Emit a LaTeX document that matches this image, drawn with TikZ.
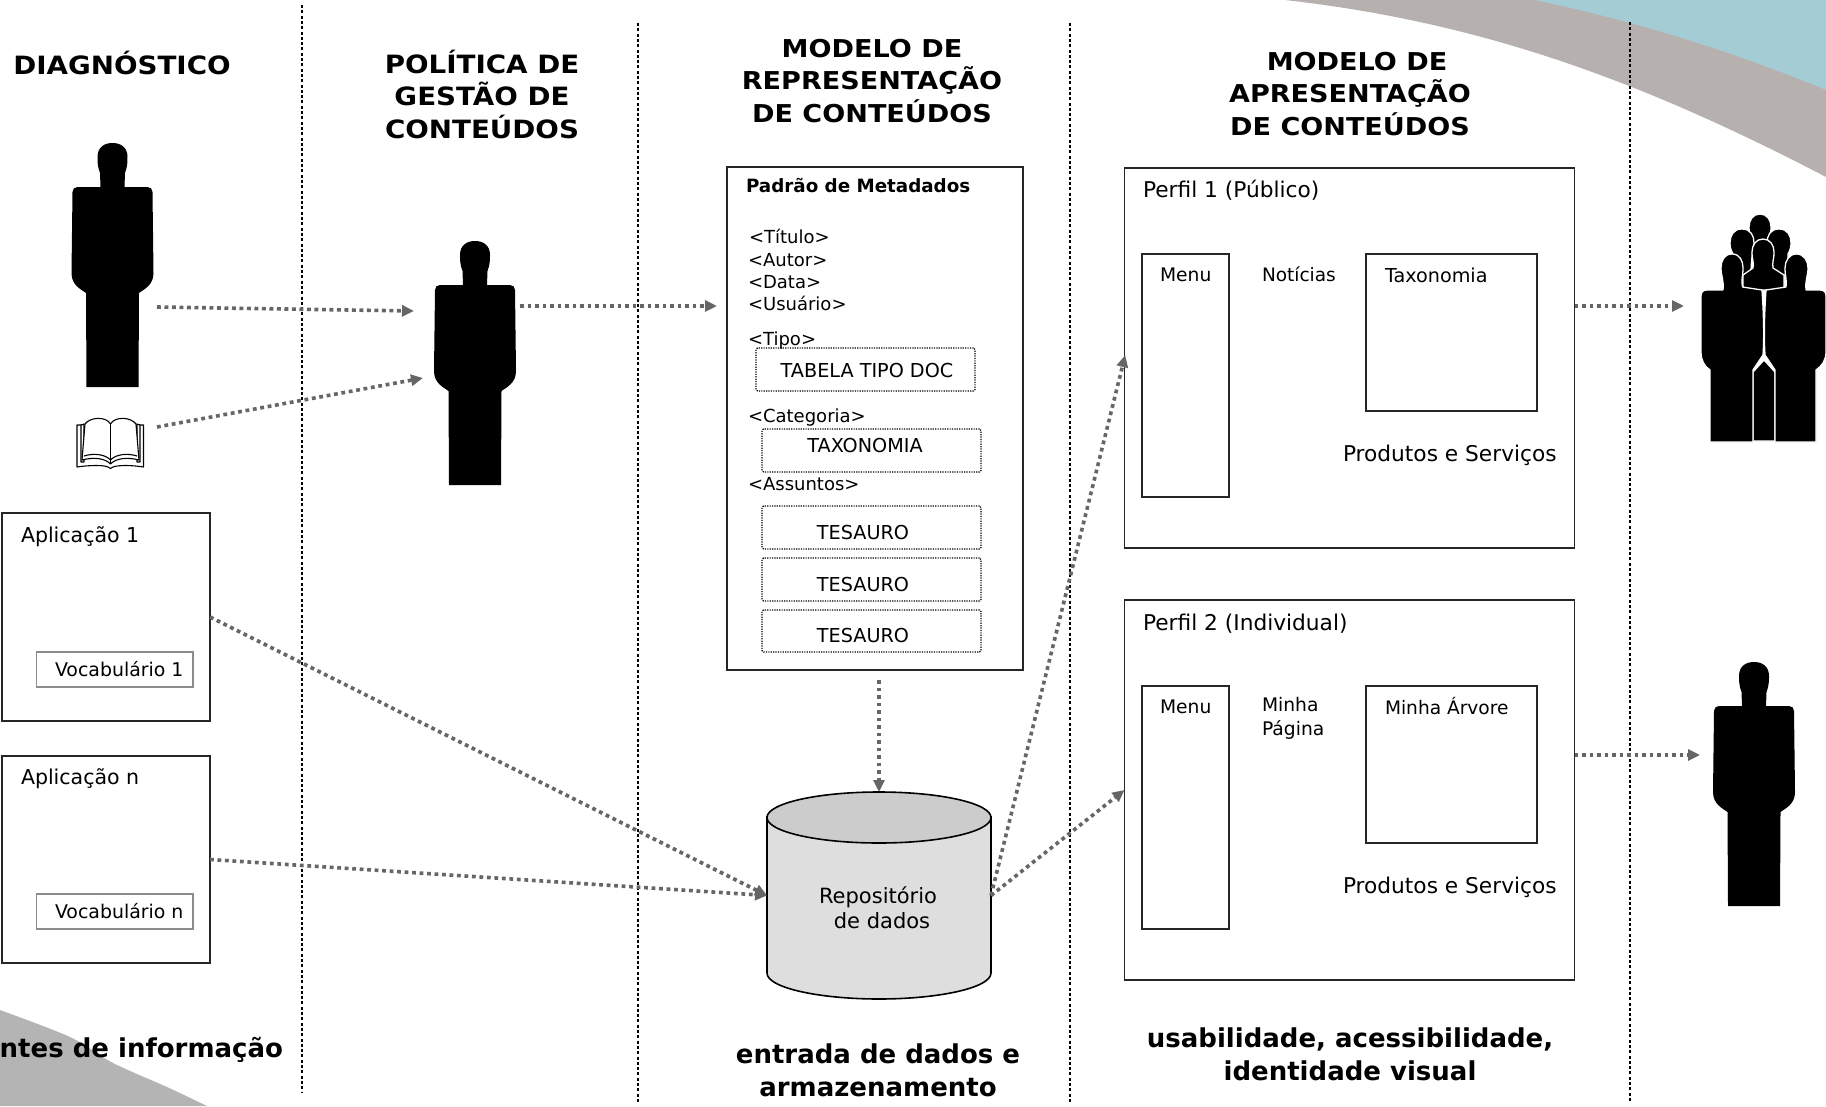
\documentclass[tikz,border=0pt]{standalone}
\usepackage{fontspec}
\setmainfont{DejaVu Sans}
\newfontfamily\headfont[FakeStretch=1.1]{DejaVu Sans}
\usetikzlibrary{arrows.meta,calc}
\definecolor{connc}{HTML}{666666}
\definecolor{bandc}{HTML}{B6B1AF}
\definecolor{tealc}{HTML}{A3CCD4}
\definecolor{cornerc}{HTML}{B4B4B4}
\newcommand\fsz[1]{\fontsize{#1}{#1}\selectfont}
\tikzset{
  x=1pt,y=-1pt,
  every node/.style={inner sep=0pt,outer sep=0pt},
  labelb/.style={anchor=base west,font=\fsz{18}},
  labelc/.style={anchor=base,font=\fsz{19.2}},
  biglabel/.style={anchor=base west,font=\fsz{21.7}},
  headb/.style={anchor=base,align=center,font={\headfont\fsz{24.6}\bfseries\baselineskip=32.5pt}},
  footb/.style={anchor=base,align=center,font={\fsz{26}\bfseries\baselineskip=32.5pt}},
  framebox/.style={draw=black!85,line width=1.6pt,anchor=north west,fill=white},
  vocbox/.style={draw=black!45,line width=1.4pt,anchor=north west,fill=white},
  dotbox/.style={draw=black,line width=1.2pt,dash pattern=on 1.2pt off 1.2pt,rounded corners=1.5pt,anchor=north west},
  vsep/.style={draw=black,line width=2.8pt,dash pattern=on 3pt off 2.3pt},
  conn/.style={draw=connc,line width=3.6pt,dash pattern=on 3.8pt off 3.7pt,-{Triangle[length=12pt,width=11pt]}},
  figout/.style={fill=black,draw=white,line width=1.3pt,line join=round},
  person/.pic={
    \fill[black] (-12,44) -- (-12.5,30) .. controls (-15,24) and (-15,18) .. (-15,14)
      .. controls (-15,4) and (-8,0) .. (0,0) .. controls (8,0) and (15,4) .. (15,14)
      .. controls (15,18) and (15,24) .. (12.5,30) -- (12,44)
      -- (35,44) .. controls (38,44) and (40,46) .. (40,49) -- (41,130)
      .. controls (41,142) and (32,146) .. (26.5,150) -- (26,244) -- (-26,244) -- (-26.5,150)
      .. controls (-32,146) and (-41,142) .. (-41,130) -- (-40,49)
      .. controls (-40,46) and (-38,44) .. (-35,44) -- cycle;
  }
}
\begin{document}
\begin{tikzpicture}
\useasboundingbox (0,0) rectangle (1826,1106);
\fill[white] (0,0) rectangle (1826,1106);
% corner swooshes
\fill[bandc] (1285,0) .. controls (1480,22) and (1640,80) .. (1826,177) -- (1826,0) -- cycle;
\fill[tealc] (1535,0) .. controls (1630,20) and (1730,50) .. (1826,90) -- (1826,0) -- cycle;
\fill[cornerc] plot[smooth] coordinates {(0,1010) (70,1037) (113,1063) (167,1087) (207,1106)} -- (0,1106) -- cycle;
% column separators
\coordinate (s1a) at (302,5);   \coordinate (s1b) at (302,1092);
\coordinate (s2a) at (638,23);  \coordinate (s2b) at (638,1103);
\coordinate (s3a) at (1070,23); \coordinate (s3b) at (1070,1103);
\coordinate (s4a) at (1630,22); \coordinate (s4b) at (1630,1103);
\path[vsep] (s1a) -- (s1b);
\path[vsep] (s2a) -- (s2b);
\path[vsep] (s3a) -- (s3b);
\path[vsep] (s4a) -- (s4b);
% headings
\node[headb,font={\headfont\fsz{25.2}\bfseries}] (h1) at (122,74) {DIAGNÓSTICO};
\node[headb,font={\headfont\fsz{25.2}\bfseries\baselineskip=32.5pt}] (h2) at (482,138) {POLÍTICA DE\\GESTÃO DE\\CONTEÚDOS};
\node[headb] (h3) at (872,122) {MODELO DE\\REPRESENTAÇÃO\\DE CONTEÚDOS};
\node[headb] (h4) at (1350,135) {\hspace*{14pt}MODELO DE\\APRESENTAÇÃO\\DE CONTEÚDOS};
% figures
\pic at (112.5,143) {person};
\pic at (475,241) {person};
\pic at (1754,662) {person};
\coordinate (p1out) at (157,307);
\coordinate (p2ina) at (414,311);
\coordinate (p2inb) at (423,378);
\coordinate (p2out) at (520,306);
\coordinate (bookout) at (157,427);
\coordinate (padin) at (717,306);
\coordinate (groupin) at (1684,306);
\coordinate (p3in) at (1700,755);
% book
\begin{scope}[line width=1.1pt,line join=round]
\draw[fill=white] (77,425) -- (77,467) .. controls (90,465) and (104,465) .. (108,467) -- (110.5,468.5) -- (113,467) .. controls (118,465) and (131,465) .. (143.5,467) -- (143.5,425) -- cycle;
\draw[fill=white] (81,462) -- (81,425) -- (84,424) -- (84,462) -- cycle;
\draw[fill=white] (140,462) -- (140,425) -- (137,424) -- (137,462) -- cycle;
\draw[fill=white] (85,424) .. controls (90,417) and (106,416) .. (110.5,424) .. controls (115,416) and (131,417) .. (136,424) -- (139,460) .. controls (128,457) and (116,458) .. (110.5,464) .. controls (105,458) and (93,457) .. (82,460) -- cycle;
\draw (110.5,424) -- (110.5,464);
\draw (84,456) .. controls (93,453) and (105,454) .. (110.5,460) .. controls (116,454) and (128,453) .. (137,456);
\end{scope}
% group of people
\begin{scope}
\path[figout] (1760,214) .. controls (1767,214) and (1771,220) .. (1771,227) .. controls (1771,236) and (1768,238) .. (1768,246) -- (1752,246) .. controls (1752,238) and (1749,236) .. (1749,227) .. controls (1749,220) and (1753,214) .. (1760,214) -- cycle;
\path[figout] (1742,229) .. controls (1751,229) and (1754,236) .. (1754,243) .. controls (1754,250) and (1751,254) .. (1751,275) -- (1733,275) -- (1733,254) .. controls (1731,250) and (1730,248) .. (1730,243) .. controls (1730,236) and (1733,229) .. (1742,229) -- cycle;
\path[figout] (1779,229) .. controls (1788,229) and (1791,236) .. (1791,243) .. controls (1791,248) and (1790,250) .. (1788,254) -- (1788,275) -- (1770,275) .. controls (1770,254) and (1767,250) .. (1767,243) .. controls (1767,236) and (1770,229) .. (1779,229) -- cycle;
\path[figout] (1763,239) .. controls (1770,239) and (1774,245) .. (1774,252) .. controls (1774,260) and (1772,262) .. (1773,268) -- (1784,275) -- (1784,290) -- (1743,290) -- (1743,275) -- (1753,268) .. controls (1754,262) and (1752,260) .. (1752,252) .. controls (1752,245) and (1756,239) .. (1763,239) -- cycle;
\path[figout] (1753,441) -- (1753,372) -- (1764,360) -- (1775,372) -- (1775,441) -- cycle;
\path[figout] (1732,254) .. controls (1740,254) and (1743,261) .. (1743,268) .. controls (1743,276) and (1741,280) .. (1742.5,287) -- (1762,290) .. controls (1764,320) and (1764,340) .. (1763,355) -- (1753,370) -- (1753,442) -- (1710,442) -- (1710,370) .. controls (1704,366) and (1701,360) .. (1701,352) -- (1701,296) .. controls (1701,292) and (1703,290) .. (1707,290) -- (1723,290) .. controls (1724,280) and (1721,276) .. (1721,268) .. controls (1721,261) and (1724,254) .. (1732,254) -- cycle;
\path[figout] (1796.5,254) .. controls (1804,254) and (1808,261) .. (1808,268) .. controls (1808,276) and (1805,280) .. (1806,290) -- (1820,290) .. controls (1824,290) and (1826,292) .. (1826,296) -- (1826,352) .. controls (1826,360) and (1822,366) .. (1816,370) -- (1816,442) -- (1775,442) -- (1775,370) -- (1765,355) .. controls (1764,340) and (1764,320) .. (1766,290) -- (1786,287) .. controls (1787,280) and (1785,276) .. (1785,268) .. controls (1785,261) and (1789,254) .. (1796.5,254) -- cycle;
\end{scope}
% applications
\node[framebox,minimum width=208pt,minimum height=208pt] (app1) at (2,513) {};
\node[vocbox,minimum width=156.5pt,minimum height=35pt] (voc1) at (36.5,652) {};
\node[framebox,minimum width=208pt,minimum height=207pt] (appn) at (2,756) {};
\node[vocbox,minimum width=156.5pt,minimum height=35pt] (vocn) at (36.5,894) {};
\node[labelb,font=\fsz{20.5}] (app1t) at (21,542) {Aplicação 1};
\node[labelb,font=\fsz{20.5}] (appnt) at (21,784) {Aplicação n};
\node[labelb,font=\fsz{18.9}] (voc1t) at (55,676) {Vocabulário 1};
\node[labelb,font=\fsz{18.9}] (vocnt) at (55,918) {Vocabulário n};
% metadata box
\node[framebox,minimum width=296pt,minimum height=503pt] (padrao) at (727,167) {};
\node[labelb,font={\fsz{18.3}\bfseries}] (padt) at (746,192) {Padrão de Metadados};
\node[labelb] (mt1) at (749,243) {<Título>};
\node[labelb] (mt2) at (748,266) {<Autor>};
\node[labelb] (mt3) at (748,288) {<Data>};
\node[labelb] (mt4) at (748,310) {<Usuário>};
\node[labelb] (mt5) at (748,345) {<Tipo>};
\node[labelb] (mt6) at (748,422) {<Categoria>};
\node[labelb] (mt7) at (748,490) {<Assuntos>};
\node[dotbox,minimum width=219pt,minimum height=43pt] (tipo) at (756,348) {};
\node[dotbox,minimum width=219pt,minimum height=43pt] (taxo) at (762,429) {};
\node[dotbox,minimum width=219pt,minimum height=43pt] (tes1) at (762,506) {};
\node[dotbox,minimum width=219pt,minimum height=43pt] (tes2) at (762,558) {};
\node[dotbox,minimum width=219pt,minimum height=42pt] (tes3) at (762,610) {};
\node[labelc] (tipot) at (867,377) {TABELA TIPO DOC};
\node[labelc] (taxot) at (865,452) {TAXONOMIA};
\node[labelc] (tes1t) at (863,539) {TESAURO};
\node[labelc] (tes2t) at (863,591) {TESAURO};
\node[labelc] (tes3t) at (863,642) {TESAURO};
% repository
\draw[fill=black!13,line width=1.6pt] (767,817) -- (767,973) .. controls (767,988) and (820,999) .. (879,999) .. controls (938,999) and (991,988) .. (991,973) -- (991,817) -- cycle;
\draw[fill=black!20,line width=1.6pt] (879,817.5) ellipse [x radius=112,y radius=25.5];
\node[minimum width=224pt,minimum height=207pt,anchor=north west] (repo) at (767,792) {};
\node[labelc,font=\fsz{21}] (rep1) at (878,903) {Repositório};
\node[labelc,font=\fsz{21}] (rep2) at (882,928) {de dados};
% profile 1
\node[framebox,minimum width=450pt,minimum height=380pt] (perfa) at (1124.5,168) {};
\node[framebox,minimum width=87pt,minimum height=243pt] (menua) at (1142,254) {};
\node[framebox,minimum width=171pt,minimum height=157pt] (taxa) at (1366,254) {};
\node[biglabel] (perfat) at (1143,197) {Perfil 1 (Público)};
\node[labelb,font=\fsz{18.7}] (menuat) at (1160,281) {Menu};
\node[labelb,font=\fsz{18.5}] (notit) at (1262,281) {Notícias};
\node[labelb,font=\fsz{19.2}] (taxat) at (1385,282) {Taxonomia};
\node[biglabel] (proda) at (1343,461) {Produtos e Serviços};
% profile 2
\node[framebox,minimum width=450pt,minimum height=380pt] (perfb) at (1124.5,600) {};
\node[framebox,minimum width=87pt,minimum height=243pt] (menub) at (1142,686) {};
\node[framebox,minimum width=171pt,minimum height=157pt] (arvb) at (1366,686) {};
\node[biglabel] (perfbt) at (1143,630) {Perfil 2 (Individual)};
\node[labelb,font=\fsz{18.7}] (menubt) at (1160,713) {Menu};
\node[labelb,align=left,font={\fsz{18.7}\baselineskip=24pt}] (minhat) at (1262,735) {Minha\\Página};
\node[labelb,font=\fsz{18.6}] (arvt) at (1385,714) {Minha Árvore};
\node[biglabel] (prodb) at (1343,893) {Produtos e Serviços};
% footers
\node[footb,anchor=base east] (f1) at (283,1057) {ntes de informação};
\node[footb] (f2) at (878,1096) {entrada de dados e\\armazenamento};
\node[footb] (f3) at (1350,1080) {usabilidade, acessibilidade,\\identidade visual};
% connectors
\path[conn] (p1out) -- (p2ina);
\path[conn] (bookout) -- (p2inb);
\path[conn] (p2out) -- (padin);
\path[conn,shorten <=10pt] (padrao.south -| repo.north) -- (repo.north);
\path[conn] (app1.east) -- (repo.west);
\path[conn] (appn.east) -- (repo.west);
\path[conn,shorten >=-3pt] (repo.east) -- (perfa.west);
\path[conn] (repo.east) -- (perfb.west);
\path[conn] (perfa.east |- p2out) -- (groupin);
\path[conn] (perfb.east |- p3in) -- (p3in);
\end{tikzpicture}
\end{document}
